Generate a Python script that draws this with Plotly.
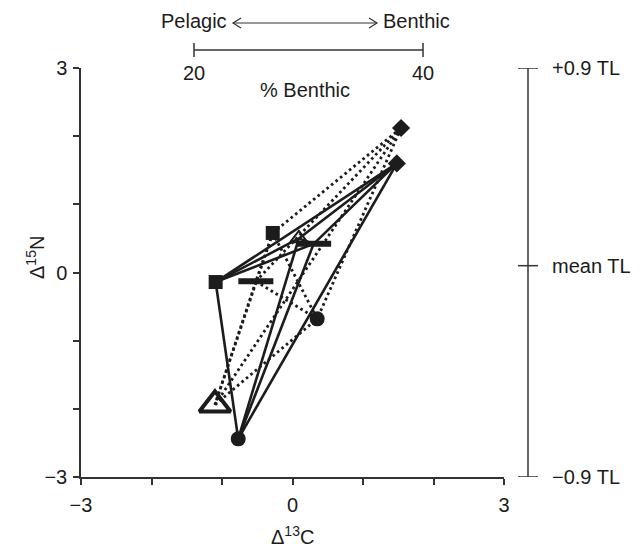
import itertools
import plotly.graph_objects as go

# ---------------- data ----------------
species = ["square", "diamond", "bar", "triangle", "circle"]
# solid-line group
solid_x = [-1.09, 1.48, 0.30, 0.09, -0.77]
solid_y = [-0.14, 1.60, 0.42, 0.50, -2.44]
# dotted-line group
dotted_x = [-0.28, 1.54, -0.52, -1.10, 0.35]
dotted_y = [0.58, 2.12, -0.13, -1.94, -0.68]

x_tickvals = [-3, 0, 3]
x_ticktext = ["−3", "0", "3"]
y_tickvals = [-3, 0, 3]
y_ticktext = ["−3", "0", "3"]
minor_step = 1

tl_levels = [3, 0.1, -3]
tl_labels = ["+0.9 TL", "mean TL", "−0.9 TL"]

# ---------------- style ----------------
W, H = 642, 549
L, R, T, B = 81, 138, 68, 72
PW, PH = W - L - R, H - T - B
INK = "#1c1c1c"
AX = "#333333"
FONT = "Liberation Sans, Arial, sans-serif"
FS = 20


def px(x):
    return (x - L) / PW


def py(y):
    return (H - B - y) / PH


sym_solid = {"square": ("square", 14, 0), "diamond": ("diamond", 14, 0),
             "bar": ("line-ew", 25, 6), "triangle": ("triangle-up-open", 15, 2),
             "circle": ("circle", 15, 0)}
sym_dotted = {"square": ("square", 14, 0), "diamond": ("diamond", 14, 0),
              "bar": ("line-ew", 25, 6), "triangle": ("triangle-up-open", 27, 4),
              "circle": ("circle", 15, 0)}


def edges(xs, ys):
    ex, ey = [], []
    for i, j in itertools.combinations(range(len(xs)), 2):
        ex += [xs[i], xs[j], None]
        ey += [ys[i], ys[j], None]
    return ex, ey


fig = go.Figure()

ex, ey = edges(dotted_x, dotted_y)
fig.add_trace(go.Scatter(x=ex, y=ey, mode="lines",
                         line=dict(color=INK, width=2.8, dash="2.6px,3.2px"),
                         hoverinfo="skip", showlegend=False))
ex, ey = edges(solid_x, solid_y)
fig.add_trace(go.Scatter(x=ex, y=ey, mode="lines",
                         line=dict(color=INK, width=2.6),
                         hoverinfo="skip", showlegend=False))

for xs, ys, syms in [(solid_x, solid_y, sym_solid), (dotted_x, dotted_y, sym_dotted)]:
    for k, sp in enumerate(species):
        s, size, lw = syms[sp]
        fig.add_trace(go.Scatter(
            x=[xs[k]], y=[ys[k]], mode="markers",
            marker=dict(symbol=s, size=size, color=INK,
                        line=dict(color=INK, width=lw)),
            hoverinfo="skip", showlegend=False))

axis_common = dict(showgrid=False, zeroline=False, showline=True, linecolor=AX,
                   linewidth=1.5, ticks="outside", ticklen=6, tickwidth=1.5,
                   tickcolor=AX, tickfont=dict(family=FONT, size=FS, color=INK),
                   minor=dict(dtick=minor_step, tick0=0, ticks="outside", ticklen=6,
                              tickwidth=1.5, tickcolor=AX, showgrid=False))

fig.update_xaxes(range=[-3, 3], tickvals=x_tickvals, ticktext=x_ticktext,
                 ticklabelstandoff=3, **axis_common)
fig.update_yaxes(range=[-3, 3], tickvals=y_tickvals, ticktext=y_ticktext,
                 ticklabelstandoff=2, **axis_common)

shapes = []
ann = []
line_style = dict(color=AX, width=1.5)

# right trophic-level scale
shapes.append(dict(type="line", xref="paper", yref="y", x0=px(528), x1=px(528),
                   y0=tl_levels[0], y1=tl_levels[-1], line=line_style))
for lev, lab in zip(tl_levels, tl_labels):
    shapes.append(dict(type="line", xref="paper", yref="y", x0=px(518), x1=px(538),
                       y0=lev, y1=lev, line=line_style))
    ann.append(dict(xref="paper", yref="y", x=px(550), y=lev, text=lab,
                    showarrow=False, xanchor="left", yanchor="middle",
                    font=dict(family=FONT, size=FS, color=INK)))

# top pelagic/benthic arrow and % benthic bar
ya = py(23)
shapes.append(dict(type="line", xref="paper", yref="paper", x0=px(233), x1=px(377),
                   y0=ya, y1=ya, line=dict(color=AX, width=1.2)))
shapes.append(dict(type="path", xref="paper", yref="paper",
                   path=f"M{px(241)},{py(18)} L{px(233)},{ya} L{px(241)},{py(28)}",
                   line=dict(color=AX, width=1.2)))
shapes.append(dict(type="path", xref="paper", yref="paper",
                   path=f"M{px(369)},{py(18)} L{px(377)},{ya} L{px(369)},{py(28)}",
                   line=dict(color=AX, width=1.2)))
ann.append(dict(xref="paper", yref="paper", x=px(229), y=py(21), text="Pelagic",
                showarrow=False, xanchor="right", yanchor="middle",
                font=dict(family=FONT, size=FS, color=INK)))
ann.append(dict(xref="paper", yref="paper", x=px(381), y=py(21), text="Benthic",
                showarrow=False, xanchor="left", yanchor="middle",
                font=dict(family=FONT, size=FS, color=INK)))

shapes.append(dict(type="line", xref="paper", yref="paper", x0=px(194), x1=px(423),
                   y0=py(50), y1=py(50), line=line_style))
for xx in (194, 423):
    shapes.append(dict(type="line", xref="paper", yref="paper", x0=px(xx), x1=px(xx),
                       y0=py(43), y1=py(57), line=line_style))
for xx, lab in ((194, "20"), (423, "40")):
    ann.append(dict(xref="paper", yref="paper", x=px(xx), y=py(73), text=lab,
                    showarrow=False, xanchor="center", yanchor="middle",
                    font=dict(family=FONT, size=FS, color=INK)))
ann.append(dict(xref="paper", yref="paper", x=px(305), y=py(90), text="% Benthic",
                showarrow=False, xanchor="center", yanchor="middle",
                font=dict(family=FONT, size=FS, color=INK)))

# axis titles
ann.append(dict(xref="paper", yref="paper", x=px(292), y=py(535),
                text="Δ<sup>13</sup>C", showarrow=False, xanchor="center",
                yanchor="middle", font=dict(family=FONT, size=FS, color=INK)))
ann.append(dict(xref="paper", yref="paper", x=px(35), y=py(258),
                text="Δ<sup>15</sup>N", showarrow=False, textangle=-90,
                xanchor="center", yanchor="middle",
                font=dict(family=FONT, size=FS, color=INK)))

fig.update_layout(width=W, height=H, margin=dict(l=L, r=R, t=T, b=B),
                  paper_bgcolor="white", plot_bgcolor="white",
                  shapes=shapes, annotations=ann,
                  font=dict(family=FONT, size=FS, color=INK))

fig.write_html("out.html")
